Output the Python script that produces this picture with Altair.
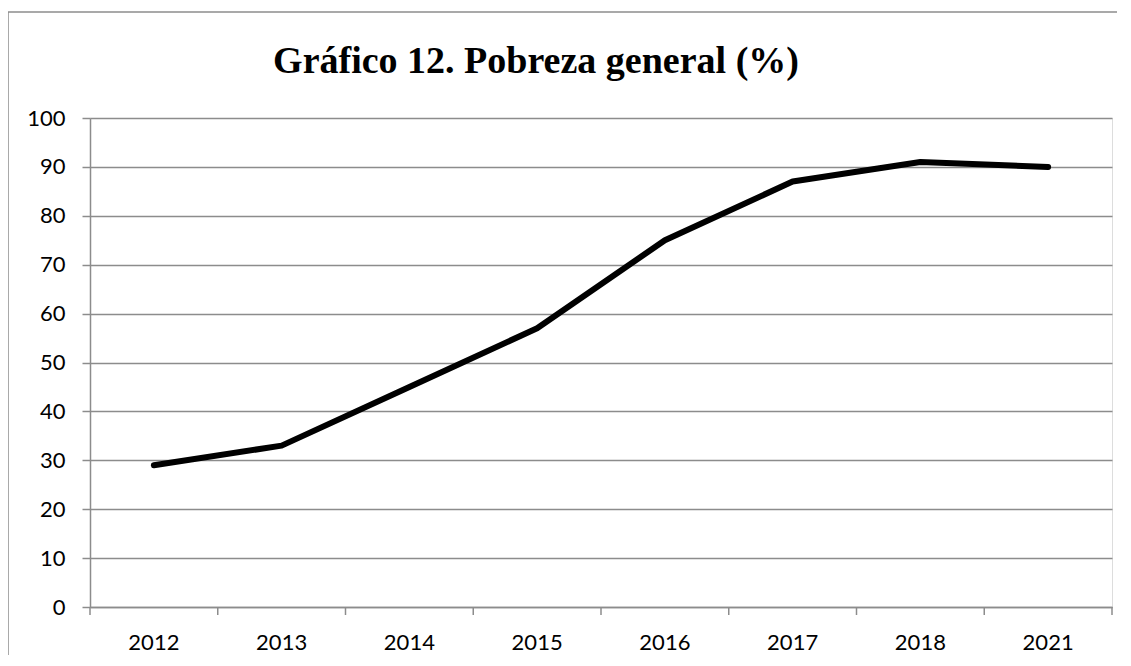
import altair as alt
import pandas as pd

years = ["2012", "2013", "2014", "2015", "2016", "2017", "2018", "2021"]
poverty = [29, 33, 45, 57, 75, 87, 91, 90]
title_text = "Gráfico 12. Pobreza general (%)"
y_ticks = [0, 10, 20, 30, 40, 50, 60, 70, 80, 90, 100]

W, H = 1022, 489
GRAY = "#8c8c8c"

df = pd.DataFrame({"year": years, "value": poverty})
one = pd.DataFrame({"t": [title_text]})
last = pd.DataFrame({"year": [years[-1]]})

xscale = alt.Scale(type="band", domain=years, paddingInner=0, paddingOuter=0)
yscale = alt.Scale(domain=[0, 100], nice=False)

line = alt.Chart(df).mark_line(color="black", strokeWidth=6, strokeCap="round", strokeJoin="round").encode(
    x=alt.X("year:N", scale=xscale, sort=years, title=None,
            axis=alt.Axis(labelAngle=0, ticks=False, domain=True, domainColor=GRAY, domainWidth=1.5,
                          labelFont="Lato", labelFontSize=22, labelColor="black", labelPadding=25,
                          grid=False)),
    y=alt.Y("value:Q", scale=yscale, title=None,
            axis=alt.Axis(values=y_ticks, grid=True, gridColor=GRAY, gridWidth=1.5, domain=True,
                          domainColor=GRAY, domainWidth=1.5, tickColor=GRAY, tickWidth=1.5, tickSize=8,
                          labelFont="Lato", labelFontSize=22, labelColor="black", labelPadding=17)),
)

ticks = alt.Chart(df).mark_rule(color=GRAY, strokeWidth=1.5).encode(
    x=alt.X("year:N", scale=xscale, sort=years, bandPosition=0),
    y=alt.value(H), y2=alt.value(H + 8),
)
end_tick = alt.Chart(last).mark_rule(color=GRAY, strokeWidth=1.5).encode(
    x=alt.X("year:N", scale=xscale, sort=years, bandPosition=1),
    y=alt.value(H), y2=alt.value(H + 8),
)

title = alt.Chart(one).mark_text(font="Liberation Serif", fontWeight="bold", fontSize=38,
                                 color="black", align="center", baseline="alphabetic").encode(
    text="t:N", x=alt.value(446), y=alt.value(-45)
)

border_left = alt.Chart(one).mark_rule(color=GRAY, strokeWidth=1.5).encode(
    x=alt.value(-82), y=alt.value(-106), y2=alt.value(H + 80)
)
border_top = alt.Chart(one).mark_rule(color=GRAY, strokeWidth=1.5).encode(
    x=alt.value(-82), x2=alt.value(W + 80), y=alt.value(-106)
)

chart = alt.layer(border_left, border_top, line, ticks, end_tick, title).properties(
    width=W, height=H,
    autosize=alt.AutoSizeParams(type="none"),
    padding={"left": 82, "top": 110, "right": 5, "bottom": 48},
).configure_view(stroke=None).configure(background="white")

chart.save("out.html", embed_options={"renderer": "svg", "actions": False})
